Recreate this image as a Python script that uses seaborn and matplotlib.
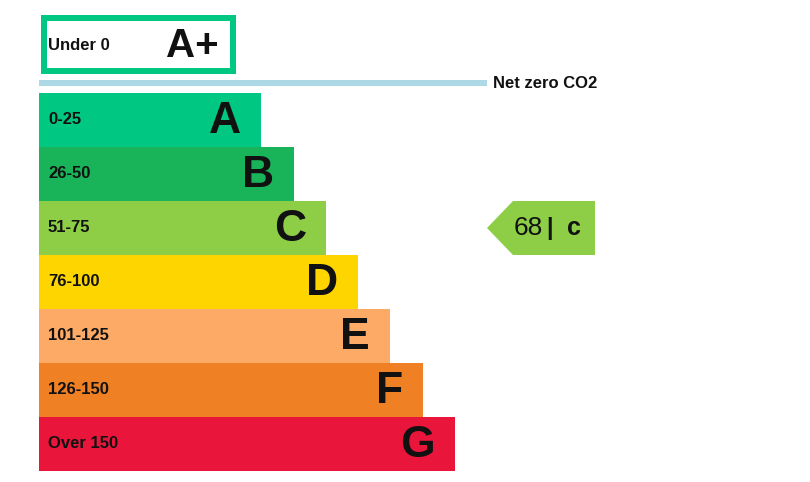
import numpy as np
import pandas as pd
import seaborn as sns
import matplotlib
matplotlib.use('Agg')
import matplotlib.pyplot as plt
from matplotlib.patches import Rectangle, Polygon

# bands of the rating scale (top to bottom)
letters = ['A', 'B', 'C', 'D', 'E', 'F', 'G']
ranges = ['0-25', '26-50', '51-75', '76-100', '101-125', '126-150', 'Over 150']
bar_lengths = [222, 255, 287, 319, 351, 384, 416]
colors = ['#00c781', '#19b459', '#8dce46', '#ffd500', '#fcaa65', '#ef8023', '#e9153b']

top_label = 'Under 0'
top_letter = 'A+'
net_zero_label = 'Net zero CO2'

current_score = 68
current_letter = 'c'
current_band = 'C'

sns.set_theme(style='white')
plt.rcParams['font.family'] = ['Liberation Sans', 'DejaVu Sans']

W, H = 810, 482
fig = plt.figure(figsize=(W / 100, H / 100), dpi=100)

# bars in band-index units on y, pixels on x (x=0 at left edge of bars)
x0, y_top, band_h = 39, 93, 54
ax = fig.add_axes([0, 0, 1, 1])
df = pd.DataFrame({'band': letters, 'length': bar_lengths})
sns.barplot(data=df, x='length', y='band', hue='band', palette=colors,
            orient='h', width=1.0, legend=False, ax=ax, saturation=1,
            linewidth=0, edgecolor='none')
ax.set_xlim(-x0, W - x0)
ax.set_ylim((H - y_top) / band_h - 0.5, -y_top / band_h - 0.5)
ax.axis('off')

for i, (lab, let, L) in enumerate(zip(ranges, letters, bar_lengths)):
    ax.text(9, i, lab, ha='left', va='center', fontsize=12, fontweight='bold',
            color='#111111')
    ax.text(L - 20, i + 0.03, let, ha='right', va='center', fontsize=32,
            fontweight='bold', color='#111111')

# decorations in pixel coordinates
px = fig.add_axes([0, 0, 1, 1])
px.set_xlim(0, W)
px.set_ylim(H, 0)
px.axis('off')
px.patch.set_alpha(0)

px.add_patch(Rectangle((44, 18), 189, 53, facecolor='white',
                       edgecolor='#00c781', linewidth=4.32))
px.text(48, 45, top_label, ha='left', va='center', fontsize=12,
        fontweight='bold', color='#111111')
px.text(219, 46, top_letter, ha='right', va='center', fontsize=29,
        fontweight='bold', color='#111111')

px.add_patch(Rectangle((39, 80), 448, 6, facecolor='#add8e6', edgecolor='none'))
px.text(493, 83, net_zero_label, ha='left', va='center', fontsize=12,
        fontweight='bold', color='#111111')

# current rating arrow
bi = letters.index(current_band)
yc = y_top + (bi + 0.5) * band_h
px.add_patch(Polygon([(487, yc), (513, yc - 27), (595, yc - 27),
                      (595, yc + 27), (513, yc + 27)],
                     closed=True, facecolor=colors[bi], edgecolor='none'))
px.text(514, yc, str(current_score), ha='left', va='center', fontsize=19,
        color='#111111')
px.text(550, yc, '|', ha='center', va='center', fontsize=17,
        fontweight='bold', color='#111111')
px.text(567, yc, current_letter, ha='left', va='center', fontsize=18,
        fontweight='bold', color='#111111')

fig.savefig('out.png', dpi=100)
